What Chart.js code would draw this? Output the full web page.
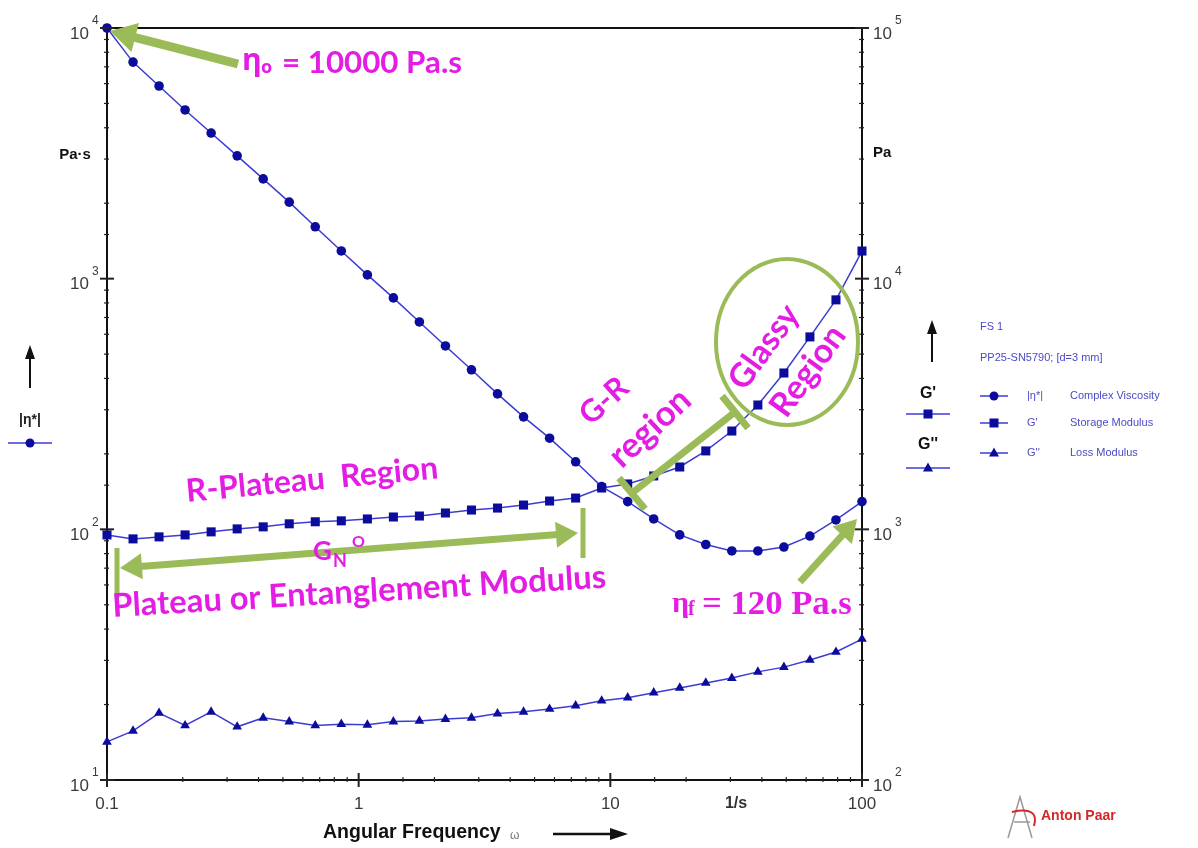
<!DOCTYPE html>
<html>
<head>
<meta charset="utf-8">
<script src="https://cdn.jsdelivr.net/npm/chart.js@4.4.1/dist/chart.umd.min.js"></script>
<style>
  html, body { margin: 0; padding: 0; background: #fff; }
</style>
</head>
<body>
<canvas id="canvas" width="1198" height="848"></canvas>
<script>
// angular frequency, 1/s (30 points, log sweep)
const freq = [0.1, 0.1269, 0.161, 0.2043, 0.2593, 0.329, 0.4175, 0.5298, 0.6723, 0.8531,
  1.083, 1.374, 1.743, 2.212, 2.807, 3.562, 4.52, 5.736, 7.279, 9.237,
  11.72, 14.87, 18.87, 23.95, 30.39, 38.57, 48.94, 62.1, 78.8, 100];
// |eta*| in Pa·s (left axis)
const viscosity = [10000, 7310, 5870, 4710, 3810, 3090, 2500, 2020, 1610, 1290,
  1035, 838, 672, 539, 433, 347, 281, 231, 186, 148,
  129, 110, 95, 87, 82, 82, 85, 94, 109, 129];
// G' in Pa (right axis)
const storage = [950, 916, 933, 950, 977, 1004, 1023, 1052, 1072, 1081,
  1100, 1120, 1130, 1162, 1194, 1216, 1250, 1297, 1333, 1462,
  1517, 1633, 1773, 2055, 2467, 3133, 4204, 5857, 8230, 12890];
// G'' in Pa (right axis)
const loss = [142, 157, 185, 165, 187, 163, 177, 171, 165, 167,
  166, 171, 172, 175, 177, 184, 187, 192, 198, 207,
  213, 223, 233, 244, 255, 270, 282, 301, 324, 365];
const leftTicks = [10, 100, 1000, 10000];
const rightTicks = [100, 1000, 10000, 100000];

const navy = '#0b0b9c';
const lineBlue = '#3c3cd4';
const green = '#9bbb59';
const magenta = '#e41de4';
const legendBlue = '#4a4ac8';

function isDecade(v) {
  const l = Math.log10(v);
  return Math.abs(l - Math.round(l)) < 1e-6;
}

function series(label, values, axis, style, r) {
  return {
    label: label,
    data: freq.map((f, i) => ({ x: f, y: values[i] })),
    yAxisID: axis,
    borderColor: lineBlue,
    borderWidth: 1.5,
    backgroundColor: navy,
    pointBackgroundColor: navy,
    pointBorderColor: navy,
    pointBorderWidth: 0,
    pointStyle: style,
    pointRadius: r,
    tension: 0,
    clip: false
  };
}

// small drawing helpers for the annotations
function head(ctx, tx, ty, fx, fy, len, half) {
  const a = Math.atan2(ty - fy, tx - fx);
  const c = Math.cos(a), s = Math.sin(a);
  ctx.beginPath();
  ctx.moveTo(tx, ty);
  ctx.lineTo(tx - len * c + half * s, ty - len * s - half * c);
  ctx.lineTo(tx - len * c - half * s, ty - len * s + half * c);
  ctx.closePath();
  ctx.fill();
}

function line(ctx, x1, y1, x2, y2, w, color) {
  ctx.strokeStyle = color;
  ctx.lineWidth = w;
  ctx.beginPath();
  ctx.moveTo(x1, y1);
  ctx.lineTo(x2, y2);
  ctx.stroke();
}

function arrow(ctx, x1, y1, x2, y2, w, len, half, both) {
  const a = Math.atan2(y2 - y1, x2 - x1);
  const c = Math.cos(a), s = Math.sin(a);
  const sx = both ? x1 + (len - 2) * c : x1, sy = both ? y1 + (len - 2) * s : y1;
  line(ctx, sx, sy, x2 - (len - 2) * c, y2 - (len - 2) * s, w, green);
  ctx.fillStyle = green;
  head(ctx, x2, y2, x1, y1, len, half);
  if (both) head(ctx, x1, y1, x2, y2, len, half);
}

function fitFont(ctx, text, width, weight, family) {
  ctx.font = weight + ' 20px ' + family;
  const size = 20 * width / ctx.measureText(text).width;
  ctx.font = weight + ' ' + size.toFixed(1) + 'px ' + family;
}

function tiltText(ctx, text, x, y, deg, width, align) {
  ctx.save();
  ctx.translate(x, y);
  ctx.rotate(deg * Math.PI / 180);
  fitFont(ctx, text, width, 'bold', 'Lato, "Open Sans", sans-serif');
  ctx.fillStyle = magenta;
  ctx.textAlign = align || 'center';
  ctx.textBaseline = align ? 'alphabetic' : 'middle';
  ctx.fillText(text, 0, 0);
  ctx.restore();
}

function marker(ctx, style, x, y) {
  ctx.fillStyle = navy;
  ctx.beginPath();
  if (style === 'circle') {
    ctx.arc(x, y, 4.5, 0, Math.PI * 2);
  } else if (style === 'rect') {
    ctx.rect(x - 4.5, y - 4.5, 9, 9);
  } else {
    ctx.moveTo(x, y - 5.5);
    ctx.lineTo(x + 5, y + 3.5);
    ctx.lineTo(x - 5, y + 3.5);
    ctx.closePath();
  }
  ctx.fill();
}

function upArrow(ctx, x, y1, y2) {
  line(ctx, x, y1, x, y2 + 8, 2, '#111');
  ctx.fillStyle = '#111';
  head(ctx, x, y2, x, y1, 14, 5);
}

const decorations = {
  id: 'decorations',
  afterDraw(chart) {
    const ctx = chart.ctx;
    const a = chart.chartArea;
    const xs = chart.scales.x, yl = chart.scales.y, yr = chart.scales.y2;
    ctx.save();

    // frame top line
    line(ctx, a.left, a.top, a.right, a.top, 2, '#111');

    // tick marks
    xs.ticks.forEach(t => {
      const px = xs.getPixelForValue(t.value);
      const m = isDecade(t.value);
      line(ctx, px, a.bottom - (m ? 7 : 3), px, a.bottom + (m ? 7 : 2), m ? 2 : 1.2, '#222');
    });
    [[yl, a.left], [yr, a.right]].forEach(([s, ax]) => {
      s.ticks.forEach(t => {
        const py = s.getPixelForValue(t.value);
        const m = isDecade(t.value);
        line(ctx, ax - (m ? 7 : 3), py, ax + (m ? 7 : 2), py, m ? 2 : 1.2, '#222');
      });
    });

    // y tick labels as 10 with exponent
    ctx.fillStyle = '#3a3a3a';
    ctx.textBaseline = 'middle';
    leftTicks.forEach(v => {
      const py = yl.getPixelForValue(v);
      ctx.font = '17px "Liberation Sans", Arial, sans-serif';
      ctx.textAlign = 'right';
      ctx.fillText('10', 89, py + 6);
      ctx.font = '12px "Liberation Sans", Arial, sans-serif';
      ctx.textAlign = 'left';
      ctx.fillText(String(Math.round(Math.log10(v))), 92, py - 7);
    });
    rightTicks.forEach(v => {
      const py = yr.getPixelForValue(v);
      ctx.font = '17px "Liberation Sans", Arial, sans-serif';
      ctx.textAlign = 'left';
      ctx.fillText('10', a.right + 11, py + 6);
      ctx.font = '12px "Liberation Sans", Arial, sans-serif';
      ctx.fillText(String(Math.round(Math.log10(v))), a.right + 33, py - 7);
    });
    ctx.font = 'bold 16px "Liberation Sans", Arial, sans-serif';
    ctx.textAlign = 'center';
    ctx.fillStyle = '#333';
    ctx.fillText('1/s', xs.getPixelForValue(31.6), a.bottom + 24);

    // axis units and titles
    ctx.fillStyle = '#111';
    ctx.font = 'bold 15px "Liberation Sans", Arial, sans-serif';
    ctx.fillText('Pa·s', 75, 155);
    ctx.textAlign = 'left';
    ctx.fillText('Pa', a.right + 11, 153);
    ctx.save();
    fitFont(ctx, 'Angular Frequency', 178, 'bold', '"Liberation Sans", Arial, sans-serif');
    ctx.fillText('Angular Frequency', 323, 833);
    ctx.restore();
    ctx.font = '12px "Liberation Sans", Arial, sans-serif';
    ctx.fillStyle = '#777';
    ctx.fillText('ω', 510, 836);
    line(ctx, 553, 834, 612, 834, 2.5, '#111');
    ctx.fillStyle = '#111';
    head(ctx, 628, 834, 553, 834, 18, 6);

    // left side axis key
    upArrow(ctx, 30, 388, 345);
    ctx.font = 'bold 14px "Liberation Sans", Arial, sans-serif';
    ctx.textAlign = 'center';
    ctx.fillStyle = '#222';
    ctx.fillText('|η*|', 30, 420);
    line(ctx, 8, 443, 52, 443, 1.6, lineBlue);
    marker(ctx, 'circle', 30, 443);

    // right side axis key
    upArrow(ctx, 932, 362, 320);
    ctx.font = 'bold 16px "Liberation Sans", Arial, sans-serif';
    ctx.fillStyle = '#111';
    ctx.fillText("G'", 928, 394);
    ctx.fillText("G''", 928, 445);
    line(ctx, 906, 414, 950, 414, 1.6, lineBlue);
    marker(ctx, 'rect', 928, 414);
    line(ctx, 906, 468, 950, 468, 1.6, lineBlue);
    marker(ctx, 'triangle', 928, 468);

    // legend
    ctx.font = '11px "Liberation Sans", Arial, sans-serif';
    ctx.textAlign = 'left';
    ctx.fillStyle = legendBlue;
    ctx.fillText('FS 1', 980, 327);
    ctx.fillText('PP25-SN5790; [d=3 mm]', 980, 358);
    [['circle', '|η*|', 'Complex Viscosity', 396],
     ['rect', "G'", 'Storage Modulus', 423],
     ['triangle', "G''", 'Loss Modulus', 453]].forEach(([st, sym, name, y]) => {
      line(ctx, 980, y, 1008, y, 1.5, lineBlue);
      marker(ctx, st, 994, y);
      ctx.fillStyle = legendBlue;
      ctx.fillText(sym, 1027, y);
      ctx.fillText(name, 1070, y);
    });

    // Anton Paar mark
    ctx.strokeStyle = '#999';
    ctx.lineWidth = 1.5;
    ctx.beginPath();
    ctx.moveTo(1008, 838); ctx.lineTo(1020, 797); ctx.lineTo(1032, 838);
    ctx.moveTo(1014, 822); ctx.lineTo(1030, 822);
    ctx.stroke();
    ctx.strokeStyle = '#d42828';
    ctx.lineWidth = 2;
    ctx.beginPath();
    ctx.moveTo(1012, 812);
    ctx.quadraticCurveTo(1040, 806, 1034, 826);
    ctx.stroke();
    ctx.fillStyle = '#d42828';
    ctx.font = 'bold 14px "Liberation Sans", Arial, sans-serif';
    ctx.fillText('Anton Paar', 1041, 816);

    // green annotation marks
    arrow(ctx, 238, 64, 110, 31, 9, 26, 15, false);
    arrow(ctx, 578, 533, 120, 568, 7, 22, 13, true);
    line(ctx, 117, 548, 117, 598, 5, green);
    line(ctx, 583, 508, 583, 558, 5, green);
    line(ctx, 632, 493, 735, 412, 7, green);
    line(ctx, 619, 478, 645, 509, 7, green);
    line(ctx, 722, 396, 748, 428, 7, green);
    arrow(ctx, 800, 582, 857, 519, 7, 22, 13, false);
    ctx.strokeStyle = green;
    ctx.lineWidth = 4;
    ctx.beginPath();
    ctx.ellipse(787, 342, 71, 83, 0, 0, Math.PI * 2);
    ctx.stroke();

    // magenta labels
    ctx.fillStyle = magenta;
    ctx.textAlign = 'left';
    ctx.textBaseline = 'alphabetic';
    ctx.font = 'bold 30px "Open Sans", sans-serif';
    ctx.fillText('η', 242, 70);
    ctx.font = 'bold 18px "Open Sans", sans-serif';
    ctx.fillText('o', 261, 73);
    tiltText(ctx, '= 10000 Pa.s', 282, 73, 0, 180, 'left');
    tiltText(ctx, 'R-Plateau  Region', 187, 502, -5.4, 253, 'left');
    tiltText(ctx, 'Plateau or Entanglement Modulus', 113, 617, -3.4, 494, 'left');
    ctx.fillStyle = magenta;
    ctx.font = 'bold 26px Lato, sans-serif';
    ctx.fillText('G', 313, 560);
    ctx.font = 'bold 18px Lato, sans-serif';
    ctx.fillText('N', 333, 567);
    ctx.font = 'bold 16px Lato, sans-serif';
    ctx.fillText('O', 352, 547);
    tiltText(ctx, 'G-R', 604, 401, -42, 54);
    tiltText(ctx, 'region', 650, 428, -43, 98);
    tiltText(ctx, 'Glassy', 764, 347, -54, 96);
    tiltText(ctx, 'Region', 808, 371, -54, 104);
    ctx.fillStyle = magenta;
    ctx.textAlign = 'left';
    ctx.font = 'bold 30px "Liberation Serif", serif';
    ctx.fillText('η', 672, 612);
    ctx.font = 'bold 20px "Liberation Serif", serif';
    ctx.fillText('f', 688, 615);
    ctx.save();
    fitFont(ctx, '= 120 Pa.s', 150, 'bold', '"Liberation Serif", serif');
    ctx.fillText('= 120 Pa.s', 702, 614);
    ctx.restore();

    ctx.restore();
  }
};

const config = {
  type: 'line',
  data: {
    datasets: [
      series('|η*| Complex Viscosity', viscosity, 'y', 'circle', 4.8),
      series("G' Storage Modulus", storage, 'y2', 'rect', 6.4),
      series("G'' Loss Modulus", loss, 'y2', 'triangle', 5.6)
    ]
  },
  options: {
    responsive: false,
    animation: false,
    layout: { padding: { left: 0, top: 28, right: 276, bottom: 0 } },
    plugins: { legend: { display: false }, tooltip: { enabled: false } },
    scales: {
      x: {
        type: 'logarithmic',
        min: 0.1,
        max: 100,
        grid: { display: false, drawTicks: false },
        border: { display: true, color: '#111', width: 2 },
        ticks: {
          autoSkip: false,
          maxRotation: 0,
          padding: 14,
          color: '#3a3a3a',
          font: { family: '"Liberation Sans", Arial, sans-serif', size: 17 },
          callback: v => isDecade(v) ? String(v) : ''
        },
        afterFit: s => { s.height = 68; }
      },
      y: {
        type: 'logarithmic',
        position: 'left',
        min: 10,
        max: 10000,
        grid: { display: false, drawTicks: false },
        border: { display: true, color: '#111', width: 2 },
        ticks: { display: false },
        afterFit: s => { s.width = 107; }
      },
      y2: {
        type: 'logarithmic',
        position: 'right',
        min: 100,
        max: 100000,
        grid: { display: false, drawTicks: false },
        border: { display: true, color: '#111', width: 2 },
        ticks: { display: false },
        afterFit: s => { s.width = 60; }
      }
    }
  },
  plugins: [decorations]
};

const chart = new Chart(document.getElementById('canvas'), config);
</script>
</body>
</html>
